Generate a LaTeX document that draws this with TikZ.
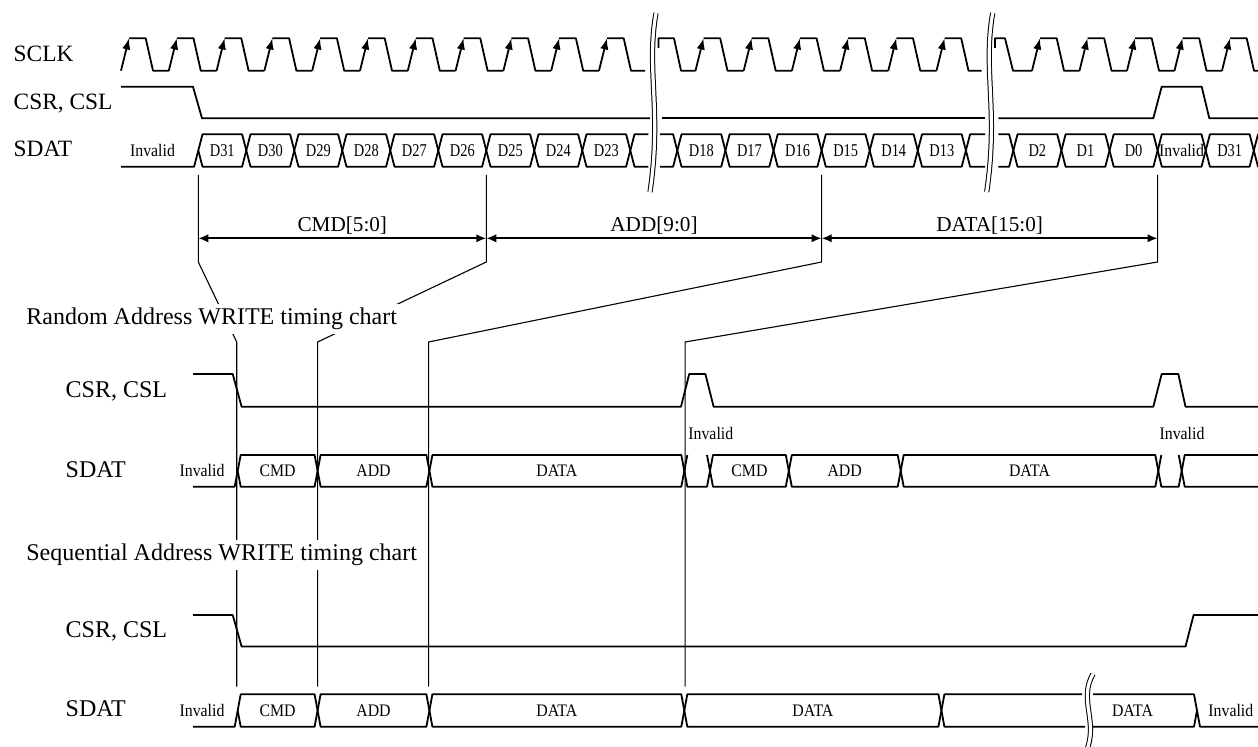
\documentclass[tikz,border=0pt]{standalone}
\usepackage{fontspec}
\setmainfont{Liberation Serif}
\newfontfamily\dnarrow[FakeStretch=0.8]{Liberation Serif}
\newfontfamily\snarrow[FakeStretch=0.9]{Liberation Serif}
\usetikzlibrary{arrows.meta}
\newcommand{\busbox}[5]{%
  \draw[sig] (#1,{(#4+#5)/2}) -- ({#1+#3},#4) -- ({#2-#3},#4) -- (#2,{(#4+#5)/2}) -- ({#2-#3},#5) -- ({#1+#3},#5) -- cycle;}
\newcommand{\buslow}[5]{%
  \draw[sig] ({#1+#3},#4) -- (#1,{(#4+#5)/2}) -- ({#1+#3},#5) -- ({#2-#3},#5) -- (#2,{(#4+#5)/2}) -- ({#2-#3},#4);}
\begin{document}
\begin{tikzpicture}[x=0.5pt,y=-0.5pt,
  sig/.style={line width=0.9pt, line join=round},
  extl/.style={line width=0.55pt},
  clkrise/.style={line width=0.9pt, -{Latex[length=5.6pt,width=4.2pt]}},
  dimarr/.style={line width=0.9pt, {Latex[length=5pt,width=4.2pt]}-{Latex[length=5pt,width=4.2pt]}},
  brk/.style={line width=0.5pt, double=white, double distance=1.6pt},
  siglbl/.style={anchor=base west, inner sep=0pt, font=\fontsize{11.7}{13}\selectfont},
  siglbltwo/.style={anchor=base west, inner sep=0pt, font=\fontsize{12}{14}\selectfont},
  dlbl/.style={inner sep=0pt, font=\dnarrow\fontsize{9}{10}\selectfont},
  slbl/.style={inner sep=0pt, font=\snarrow\fontsize{8.8}{10}\selectfont},
  dimlbl/.style={anchor=base, inner sep=0pt, font=\fontsize{10.6}{12}\selectfont},
  ttl/.style={anchor=base west, fill=white, inner sep=2pt, font=\fontsize{12}{14}\selectfont}]

\useasboundingbox (0,0) rectangle (1258,747);

% ---------- extension / guide lines ----------
\coordinate (a0) at (198.3,175);  \coordinate (a1) at (198.3,262);  \coordinate (a2) at (236.7,342); \coordinate (a3) at (236.7,686.7);
\coordinate (b0) at (486.3,175);  \coordinate (b1) at (486.3,262);  \coordinate (b2) at (317.6,342); \coordinate (b3) at (317.6,686.7);
\coordinate (c0) at (821.6,175);  \coordinate (c1) at (821.6,262);  \coordinate (c2) at (428.6,342); \coordinate (c3) at (428.6,686.7);
\coordinate (d0) at (1157.6,175); \coordinate (d1) at (1157.6,262); \coordinate (d2) at (685.1,342); \coordinate (d3) at (685.1,686.7);
\draw[extl] (a0) -- (a1) -- (a2) -- (a3);
\draw[extl] (b0) -- (b1) -- (b2) -- (b3);
\draw[extl] (c0) -- (c1) -- (c2) -- (c3);
\draw[extl] (d0) -- (d1) -- (d2) -- (d3);

% ---------- dimension arrows ----------
\coordinate (da) at (198.3,238.3); \coordinate (db) at (486.3,238.3);
\coordinate (dc) at (821.6,238.3); \coordinate (dd) at (1157.6,238.3);
\draw[dimarr] (da) -- (db);
\draw[dimarr] (db) -- (dc);
\draw[dimarr] (dc) -- (dd);
\node[dimlbl] (lcmd) at (342.3,231.7) {CMD[5:0]};
\node[dimlbl] (ladd) at (654,231.7) {ADD[9:0]};
\node[dimlbl] (ldata) at (989.6,231.7) {DATA[15:0]};

% ---------- titles ----------
\node[ttl] (t1) at (22,324.4) {Random Address WRITE timing chart};
\node[ttl] (t2) at (22,561) {Sequential Address WRITE timing chart};

% ---------- signal names ----------
\node[siglbl] (l1) at (13.3,61.7) {SCLK};
\node[siglbl] (l2) at (13.3,110) {CSR, CSL};
\node[siglbl] (l3) at (13.3,156.7) {SDAT};
\node[siglbltwo] (l4) at (65.3,397.3) {CSR, CSL};
\node[siglbltwo] (l5) at (65.3,477.3) {SDAT};
\node[siglbltwo] (l6) at (65.3,637.3) {CSR, CSL};
\node[siglbltwo] (l7) at (65.3,716.7) {SDAT};

% ---------- SCLK ----------
\foreach \k in {0,...,10} {
  \pgfmathsetmacro\r{121+47.8*\k}
  \pgfmathsetmacro\e{min(\r+47.8,645)}
  \draw[clkrise] (\r,70.7) -- ({\r+8},38.3);
  \draw[sig] ({\r+8},38.3) -- ({\r+24.7},38.3) -- ({\r+32},70.7) -- (\e,70.7);
}
\draw[sig] (658.5,48) -- (658.5,38.3) -- (674,38.3) -- (681,70.7) -- (695.5,70.7);
\foreach \k in {0,...,5} {
  \pgfmathsetmacro\r{695.5+48.2*\k}
  \pgfmathsetmacro\e{min(\r+48.2,981.7)}
  \draw[clkrise] (\r,70.7) -- ({\r+8},38.3);
  \draw[sig] ({\r+8},38.3) -- ({\r+24.7},38.3) -- ({\r+32},70.7) -- (\e,70.7);
}
\draw[sig] (995,48) -- (995,38.3) -- (1005,38.3) -- (1013,70.7) -- (1032,70.7);
\foreach \k in {0,...,4} {
  \pgfmathsetmacro\r{1032+47.5*\k}
  \draw[clkrise] (\r,70.7) -- ({\r+8},38.3);
  \draw[sig] ({\r+8},38.3) -- ({\r+24.7},38.3) -- ({\r+32},70.7) -- ({\r+47.5},70.7);
}

% ---------- top CSR ----------
\draw[sig] (121,86.7) -- (193,86.7) -- (202,118.3) -- (650,118.3);
\draw[sig] (661.7,118.3) -- (985,118.3);
\draw[sig] (998.3,118.3) -- (1153.3,118.3) -- (1161.7,86.7) -- (1201.7,86.7) -- (1209.3,118.3) -- (1275,118.3);

% ---------- top SDAT ----------
\draw[sig] (121,166.7) -- (194.1,166.7) -- (198.3,150.5);
\node[slbl] (tinv) at (152.5,150.5) {Invalid};
\foreach \t [count=\i from 0] in {D31,D30,D29,D28,D27,D26,D25,D24,D23} {
  \pgfmathsetmacro\a{198.3+48*\i}
  \pgfmathsetmacro\b{\a+48}
  \busbox{\a}{\b}{4.2}{134.3}{166.7}
  \node[dlbl] (ta\t) at ({\a+24},150.5) {\t};
}
\draw[sig] (648.3,134.3) -- (634.5,134.3) -- (630.3,150.5) -- (634.5,166.7) -- (648.3,166.7);
\draw[sig] (660,134.3) -- (673.1,134.3) -- (677.3,150.5) -- (673.1,166.7) -- (660,166.7);
\foreach \t [count=\i from 0] in {D18,D17,D16,D15,D14,D13} {
  \pgfmathsetmacro\a{677.3+48.1*\i}
  \pgfmathsetmacro\b{\a+48.1}
  \busbox{\a}{\b}{4.2}{134.3}{166.7}
  \node[dlbl] (tb\t) at ({\a+24.05},150.5) {\t};
}
\draw[sig] (985,134.3) -- (970.1,134.3) -- (965.9,150.5) -- (970.1,166.7) -- (985,166.7);
\draw[sig] (998.3,134.3) -- (1009.1,134.3) -- (1013.3,150.5) -- (1009.1,166.7) -- (998.3,166.7);
\foreach \t [count=\i from 0] in {D2,D1,D0} {
  \pgfmathsetmacro\a{1013.3+48.1*\i}
  \pgfmathsetmacro\b{\a+48.1}
  \busbox{\a}{\b}{4.2}{134.3}{166.7}
  \node[dlbl] (tc\t) at ({\a+24.05},150.5) {\t};
}
\busbox{1157.6}{1205.7}{4.2}{134.3}{166.7}
\node[slbl] (tcinv) at (1181.6,150.5) {Invalid};
\busbox{1205.7}{1253.8}{4.2}{134.3}{166.7}
\node[dlbl] (tcD31) at (1229.7,150.5) {D31};
\draw[sig] (1275,134.3) -- (1258,134.3) -- (1253.8,150.5) -- (1258,166.7) -- (1275,166.7);

% ---------- breaks (top) ----------
\draw[brk] (656,13) .. controls (646,70) and (662,110) .. (650,192);
\draw[brk] (992.7,13) .. controls (982.7,70) and (998.7,110) .. (986.7,192);

% ---------- Random: CSR ----------
\draw[sig] (193,374) -- (232.7,374) -- (241.6,406.7) -- (681,406.7) -- (689.2,374) -- (705.4,374) -- (713.6,406.7)
  -- (1153.3,406.7) -- (1161.7,374) -- (1178.3,374) -- (1185.5,406.7) -- (1275,406.7);
\node[slbl] (rinv1) at (710.8,433) {Invalid};
\node[slbl] (rinv2) at (1182,433) {Invalid};

% ---------- Random: SDAT ----------
\draw[sig] (193,486.7) -- (234.7,486.7) -- (237.7,470.85);
\node[slbl] (rinv0) at (202,470.85) {Invalid};
\busbox{237.7}{317.6}{3}{455}{486.7}
\node[slbl] (rcmd1) at (277.6,470.85) {CMD};
\busbox{317.6}{429.4}{3}{455}{486.7}
\node[slbl] (radd1) at (373.5,470.85) {ADD};
\busbox{429.4}{684.3}{3}{455}{486.7}
\node[slbl] (rdata1) at (556.8,470.85) {DATA};
\buslow{684.3}{710}{3}{455}{486.7}
\busbox{710}{788.8}{3}{455}{486.7}
\node[slbl] (rcmd2) at (749.4,470.85) {CMD};
\busbox{788.8}{900.7}{3}{455}{486.7}
\node[slbl] (radd2) at (844.7,470.85) {ADD};
\busbox{900.7}{1158.3}{3}{455}{486.7}
\node[slbl] (rdata2) at (1029.5,470.85) {DATA};
\buslow{1158.3}{1181.7}{3}{455}{486.7}
\draw[sig] (1275,455) -- (1184.7,455) -- (1181.7,470.85) -- (1184.7,486.7) -- (1275,486.7);

% ---------- Sequential: CSR ----------
\draw[sig] (193,615) -- (232.7,615) -- (241.6,646.5) -- (1185.5,646.5) -- (1193.6,615) -- (1275,615);

% ---------- Sequential: SDAT ----------
\draw[sig] (193,726.7) -- (234.7,726.7) -- (237.7,710.5);
\node[slbl] (sinv0) at (202,710.5) {Invalid};
\busbox{237.7}{317.6}{3}{694.3}{726.7}
\node[slbl] (scmd) at (277.6,710.5) {CMD};
\busbox{317.6}{429.4}{3}{694.3}{726.7}
\node[slbl] (sadd) at (373.5,710.5) {ADD};
\busbox{429.4}{684.3}{3}{694.3}{726.7}
\node[slbl] (sdata1) at (556.8,710.5) {DATA};
\busbox{684.3}{941.4}{3}{694.3}{726.7}
\node[slbl] (sdata2) at (812.9,710.5) {DATA};
\draw[sig] (1082,694.3) -- (944.4,694.3) -- (941.4,710.5) -- (944.4,726.7) -- (1085,726.7);
\draw[sig] (1093,694.3) -- (1194,694.3) -- (1197,710.5) -- (1194,726.7) -- (1093,726.7);
\draw[sig] (1197,710.5) -- (1200,726.7) -- (1275,726.7);
\node[slbl] (sdata3) at (1132.5,710.5) {DATA};
\node[slbl, anchor=west] (sinv1) at (1208,710.5) {Invalid};
\draw[brk] (1093,674) .. controls (1078,700) and (1099,722) .. (1086,752);

\end{tikzpicture}
\end{document}
